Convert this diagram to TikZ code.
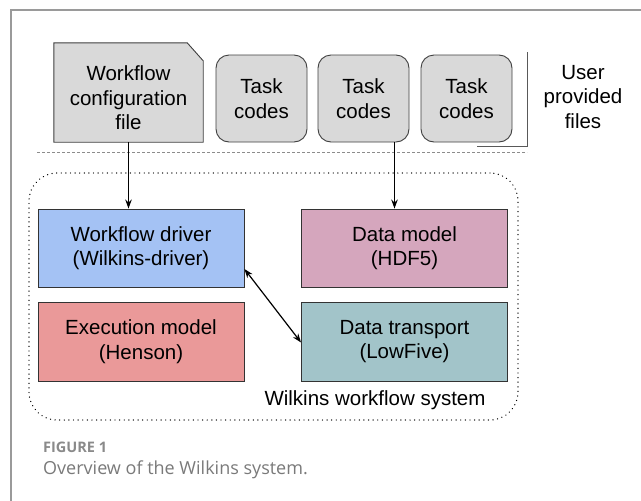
\documentclass[tikz,border=0pt]{standalone}
\usepackage{fontspec}
\setmainfont{Liberation Sans}
\newfontfamily\capfont{Open Sans}
\usetikzlibrary{arrows.meta,backgrounds,calc}
\definecolor{framegray}{HTML}{9A9A9A}
\definecolor{filegray}{HTML}{D9D9D9}
\definecolor{drvblue}{HTML}{A4C2F4}
\definecolor{dmpink}{HTML}{D5A6BD}
\definecolor{exred}{HTML}{EA9999}
\definecolor{dtteal}{HTML}{A2C4C9}
\definecolor{capgray}{HTML}{7A7A7A}
\definecolor{capgrayb}{HTML}{8A8A8A}
\begin{document}
\begin{tikzpicture}[x=1pt,y=-1pt,
  lbl/.style={font=\fontsize{20.5}{24.5}\selectfont, align=center, text=black},
  filebox/.style={lbl, draw=black!75, fill=filegray, rounded corners=13pt, minimum width=91pt, minimum height=87pt, line width=0.9pt, inner sep=0pt},
  compbox/.style={lbl, draw=black!80, line width=0.9pt, minimum width=206pt, minimum height=78pt, inner sep=0pt},
  arr/.style={-{Stealth[length=9pt,width=6.5pt]}, line width=1.2pt},
  darr/.style={{Stealth[length=9pt,width=6.5pt]}-{Stealth[length=9pt,width=6.5pt]}, line width=1.2pt},
  sysbox/.style={draw=black, line width=1.4pt, dash pattern=on 0.01pt off 4.6pt, line cap=round, rounded corners=28pt}
]
\useasboundingbox (0,0) rectangle (641,501);
% outer frame
\draw[framegray, line width=2pt] (11,501) -- (11,10) -- (641,10);

% workflow configuration file (document shape)
\node[minimum width=149pt, minimum height=99pt, inner sep=0pt] (doc) at (128.5,92.5) {};
\begin{pgfonlayer}{background}
\fill[white] (0,0) rectangle (641,501);
\filldraw[fill=filegray, draw=black!75, line width=0.9pt]
  (doc.south west) -- (doc.north west) -- ([xshift=-16pt]doc.north east)
  -- ([yshift=-18pt]doc.north east) -- (doc.south east) -- cycle;
\end{pgfonlayer}
\node[lbl] (doctext) at ([yshift=-5.5pt]doc.center) {Workflow\\configuration\\file};

% task codes
\node[filebox] (tc1) at (261.5,98.5) {Task\\codes};
\node[filebox] (tc2) at (363.5,98.5) {Task\\codes};
\node[filebox] (tc3) at (466.5,98.5) {Task\\codes};

% user provided files
\node[lbl] (user) at (583,97) {User\\provided\\files};
\coordinate (brtop) at (527,52);
\coordinate (brbot) at (527,146);
\coordinate (brend) at (477,146);
\draw[black!65, line width=0.9pt] (brtop) -- (brbot) -- (brend);

% dashed separator
\coordinate (dsl) at (37,152);
\coordinate (dsr) at (527,152);
\draw[black!45, line width=1pt, dash pattern=on 3pt off 2pt] (dsl) -- (dsr);

% Wilkins system box
\node[sysbox, minimum width=489pt, minimum height=247pt, inner sep=0pt] (sys) at (273.5,296.5) {};
\node[lbl, anchor=base] (syslbl) at (375,405) {Wilkins workflow system};

% components
\node[compbox, fill=drvblue] (drv) at (141,248) {Workflow driver\\(Wilkins-driver)};
\node[compbox, fill=dmpink] (dm) at (404.5,248) {Data model\\(HDF5)};
\node[compbox, fill=exred, minimum height=79pt] (ex) at (141,341.5) {Execution model\\(Henson)};
\node[compbox, fill=dtteal, minimum height=79pt] (dt) at (404.5,341.5) {Data transport\\(LowFive)};

% connectors
\draw[arr] (doc.south) -- (doc.south |- drv.north);
\draw[arr] ([xshift=31pt]tc2.south) -- ([xshift=31pt]tc2.south |- dm.north);
\draw[darr] ([yshift=-21pt]drv.east) -- ([yshift=-1pt]dt.west);

% caption
\node[anchor=base west, inner sep=0pt, font=\capfont\bfseries\fontsize{14.5}{16}\selectfont, text=capgrayb] (figlbl) at (43,452.5) {FIGURE 1};
\node[anchor=base west, inner sep=0pt, font=\capfont\fontsize{18}{20}\selectfont, text=capgray] (figcap) at (43,474) {Overview of the Wilkins system.};
\end{tikzpicture}
\end{document}
